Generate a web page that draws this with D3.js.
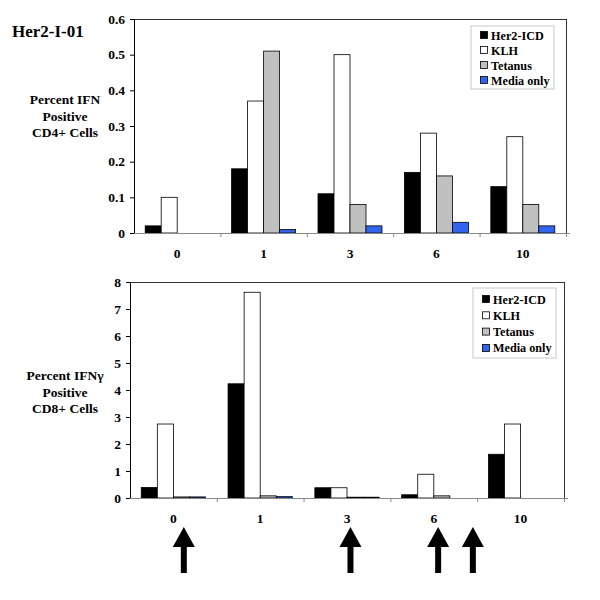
<!DOCTYPE html>
<html><head><meta charset="utf-8">
<script src="https://cdn.jsdelivr.net/npm/d3@7"></script>
<style>body{margin:0;background:#fff}svg text{font-family:"Liberation Serif","Times New Roman",serif;font-weight:bold;fill:#000}</style>
</head><body><div id="c"></div>
<script>
const categories = ["0","1","3","6","10"];
const series = ["Her2-ICD","KLH","Tetanus","Media only"];
const colors = ["#000000","#ffffff","#c0c0c0","#3364f0"];
// CD4+ values (rows = series, cols = categories)
const cd4Her2 = [0.02,0.18,0.11,0.17,0.13];
const cd4KLH = [0.10,0.37,0.50,0.28,0.27];
const cd4Tet = [0,0.51,0.08,0.16,0.08];
const cd4Media = [0,0.01,0.02,0.03,0.02];
// CD8+ values
const cd8Her2 = [0.39,4.23,0.38,0.12,1.62];
const cd8KLH = [2.74,7.62,0.38,0.88,2.74];
const cd8Tet = [0.04,0.08,0.03,0.08,0];
const cd8Media = [0.04,0.05,0.03,0,0];
const cd4Ticks = [0,0.1,0.2,0.3,0.4,0.5,0.6];
const cd4TickLabels = ["0","0.1","0.2","0.3","0.4","0.5","0.6"];
const cd8Ticks = [0,1,2,3,4,5,6,7,8];
const cd8TickLabels = ["0","1","2","3","4","5","6","7","8"];
const title = "Her2-I-01";
const cd4Label = ["Percent IFN","Positive","CD4+ Cells"];
const cd8Label = ["Percent IFN\u03b3","Positive","CD8+ Cells"];
// vaccination arrows, in category-index units
const arrowIdx = [0.12, 2.04, 3.05, 3.45];

const svg = d3.select("#c").append("svg").attr("width",600).attr("height",600);

svg.append("text").attr("x",12).attr("y",37).attr("font-size",17).text(title);

function panel(cfg){
  const {left,right,top,bottom,ymax,ticks,tickLabels,data,label,labelY,legend} = cfg;
  const g = svg.append("g");
  const x = d3.scaleBand().domain(categories).range([left,right]).paddingInner(0).paddingOuter(0);
  const xs = d3.scaleBand().domain(series).range([0,x.bandwidth()]).paddingInner(0).paddingOuter(0.7);
  const y = d3.scaleLinear().domain([0,ymax]).range([bottom,top]);
  // frame top/right
  g.append("line").attr("x1",left).attr("x2",right).attr("y1",top+0.5).attr("y2",top+0.5).attr("stroke","#333");
  g.append("line").attr("x1",right+0.5).attr("x2",right+0.5).attr("y1",top).attr("y2",bottom).attr("stroke","#333");
  // bars
  series.forEach((s,si)=>{
    g.selectAll(null).data(data[si]).enter().append("rect")
      .attr("x",(d,i)=>x(categories[i])+xs(s))
      .attr("y",d=>y(d))
      .attr("width",xs.bandwidth())
      .attr("height",d=>bottom-y(d))
      .attr("fill",colors[si])
      .attr("stroke",d=>d>0?"#000":"none").attr("stroke-width",0.8);
  });
  // y axis
  const ya = d3.axisLeft(y).tickValues(ticks).tickFormat((d,i)=>tickLabels[i]).tickSize(4).tickPadding(5);
  const yg = g.append("g").attr("transform",`translate(${left},0)`).call(ya);
  yg.select(".domain").attr("stroke","#000");
  yg.selectAll("text").attr("font-size",13.5).style("font-family",'"Liberation Serif",serif').style("font-weight","bold");
  // x axis
  const xg = g.append("g").attr("transform",`translate(0,${bottom})`);
  xg.append("line").attr("x1",left).attr("x2",right+4).attr("y1",0.5).attr("y2",0.5).attr("stroke","#888");
  xg.selectAll(null).data(categories.slice(1).concat(["end"])).enter().append("line")
    .attr("x1",(d,i)=>x(categories[0])+x.step()*(i+1)+0.5).attr("x2",(d,i)=>x(categories[0])+x.step()*(i+1)+0.5)
    .attr("y1",0).attr("y2",4).attr("stroke","#888");
  xg.selectAll(null).data(categories).enter().append("text")
    .attr("x",d=>x(d)+x.bandwidth()/2).attr("y",25).attr("text-anchor","middle").attr("font-size",13.5).text(d=>d);
  // axis label
  label.forEach((t,i)=>{
    g.append("text").attr("x",65).attr("y",labelY+i*16.5).attr("text-anchor","middle").attr("font-size",13.5).text(t);
  });
  // legend
  const lg = g.append("g");
  lg.append("rect").attr("x",legend.x).attr("y",legend.y).attr("width",legend.w).attr("height",legend.h)
    .attr("fill","#fff").attr("stroke","#c8c8c8");
  series.forEach((s,si)=>{
    const cy = legend.y + legend.first + si*legend.step;
    lg.append("rect").attr("x",legend.x+9.5).attr("y",cy-3.5).attr("width",7).attr("height",7)
      .attr("fill",colors[si]).attr("stroke","#000").attr("stroke-width",0.8);
    lg.append("text").attr("x",legend.x+20).attr("y",cy+4.5).attr("font-size",12.2).text(s);
  });
  return x;
}

panel({left:134,right:566,top:19,bottom:233,ymax:0.6,ticks:cd4Ticks,tickLabels:cd4TickLabels,
  data:[cd4Her2,cd4KLH,cd4Tet,cd4Media],label:cd4Label,labelY:104,
  legend:{x:471,y:26,w:83,h:63,first:9,step:15}});
const x8 = panel({left:130,right:564,top:282,bottom:498,ymax:8,ticks:cd8Ticks,tickLabels:cd8TickLabels,
  data:[cd8Her2,cd8KLH,cd8Tet,cd8Media],label:cd8Label,labelY:380,
  legend:{x:473,y:288,w:83,h:70,first:11,step:16.3}});

// arrows
const ax = d3.scaleLinear().domain([0,categories.length-1])
  .range([x8(categories[0])+x8.bandwidth()/2, x8(categories[categories.length-1])+x8.bandwidth()/2]);
const ag = svg.append("g");
arrowIdx.forEach(v=>{
  const cx = ax(v);
  ag.append("path").attr("d",`M${cx},527 L${cx+11},547 L${cx-11},547 Z`).attr("fill","#000");
  ag.append("rect").attr("x",cx-3).attr("y",546).attr("width",6).attr("height",27).attr("fill","#000");
});
</script></body></html>
